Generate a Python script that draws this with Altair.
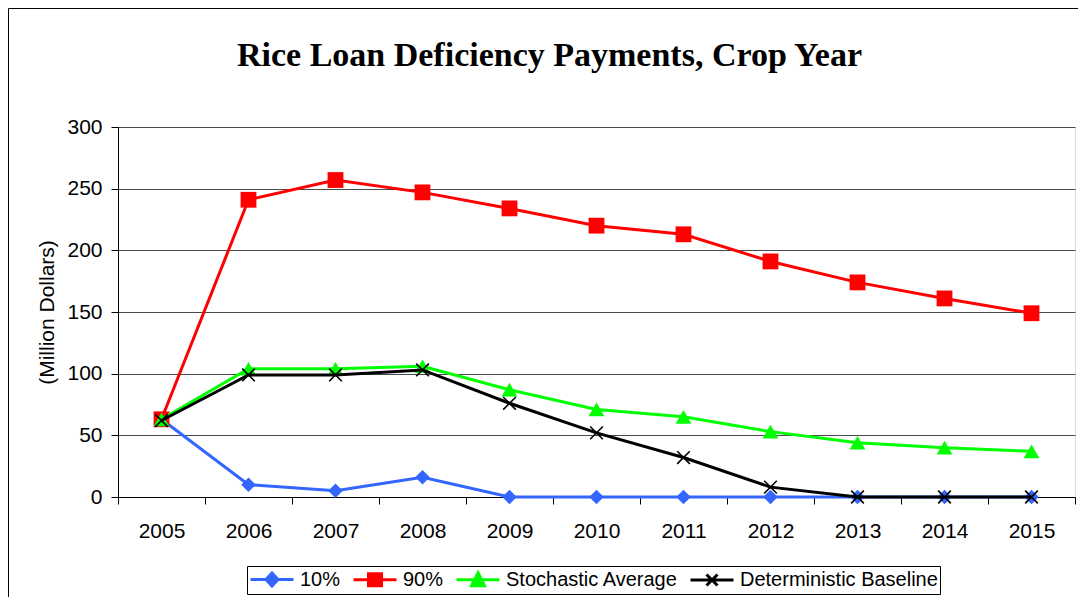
import altair as alt
import pandas as pd

years = ["2005", "2006", "2007", "2008", "2009", "2010", "2011", "2012", "2013", "2014", "2015"]
series = ["10%", "90%", "Stochastic Average", "Deterministic Baseline"]
v10 = [63, 10, 5, 16, 0, 0, 0, 0, 0, 0, 0]
v90 = [63, 241, 257, 247, 234, 220, 213, 191, 174, 161, 149]
vsto = [63, 104, 104, 106, 87, 71, 65, 53, 44, 40, 37]
vdet = [62, 99, 99, 103, 76, 52, 32, 8, 0, 0, 0]
colors = ["#3366ff", "#ff0000", "#00ff00", "#000000"]

values = [v10, v90, vsto, vdet]
rows = []
for s, vals in zip(series, values):
    for y, v in zip(years, vals):
        rows.append({"year": y, "value": v, "series": s})
df = pd.DataFrame(rows)

W, H = 957, 370
PL, PT, PR, PB = 110, 119, 3, 100

xenc = alt.X(
    "year:O",
    scale=alt.Scale(type="band", paddingInner=0, paddingOuter=0, domain=years),
    bandPosition=0.5,
    axis=alt.Axis(
        title=None, tickBand="extent", labelAngle=0, grid=False,
        labelFont="Liberation Sans", labelFontSize=21, labelColor="black",
        tickColor="black", tickSize=7, domainColor="black", labelPadding=16,
    ),
)
yenc = alt.Y(
    "value:Q",
    scale=alt.Scale(domain=[0, 300], nice=False),
    axis=alt.Axis(
        title="(Million Dollars)", values=[0, 50, 100, 150, 200, 250, 300],
        titleFont="Liberation Sans", titleFontSize=21, titleFontWeight="normal",
        titleColor="black", titlePadding=9,
        labelFont="Liberation Sans", labelFontSize=21, labelColor="black",
        labelPadding=9, tickColor="black", tickSize=7, domainColor="black",
        grid=True, gridColor="#4a4a4a", gridWidth=1,
    ),
)

point_shapes = ["diamond", "square", "triangle-up", "M-1,-1L1,1M-1,1L1,-1"]
point_sizes = [210, 250, 250, 160]

base = alt.Chart(df)
layers = []
for i, s in enumerate(series):
    sub = base.transform_filter(alt.datum.series == s)
    layers.append(
        sub.mark_line(strokeWidth=3, color=colors[i]).encode(x=xenc, y=yenc)
    )
    if i == 3:
        pm = sub.mark_point(shape=point_shapes[i], size=point_sizes[i], filled=False,
                            stroke=colors[i], strokeWidth=1.6, opacity=1)
    else:
        pm = sub.mark_point(shape=point_shapes[i], size=point_sizes[i], filled=True,
                            color=colors[i], opacity=1)
    layers.append(pm.encode(x=xenc, y=yenc))

# legend symbols: a line with the marker, drawn in a 20px symbol box
legend_paths = [
    "M-1,0H3.3M1.15,-0.65L1.75,0L1.15,0.65L0.55,0Z",
    "M-1,0H3.3M0.5,-0.6H1.8V0.6H0.5Z",
    "M-1,0H3.3M1.15,-0.7L1.8,0.6H0.5Z",
    "M-1,0H3.3M0.6,-0.55L1.7,0.55M0.6,0.55L1.7,-0.55",
]
leg = alt.Legend(
    title=None, orient="none", direction="horizontal", legendX=129, legendY=439,
    labelFont="Liberation Sans", labelFontSize=20, labelColor="black", labelLimit=500,
    symbolSize=400, symbolStrokeWidth=3, symbolOpacity=1, labelOffset=28,
    columnPadding=6, padding=2, strokeColor="black", fillColor="white",
)
legend_layer = base.transform_filter("false").mark_point(filled=False, opacity=1).encode(
    shape=alt.Shape("series:N", scale=alt.Scale(domain=series, range=legend_paths), legend=leg),
    fill=alt.Fill("series:N", scale=alt.Scale(domain=series, range=colors), legend=leg),
    stroke=alt.Stroke("series:N", scale=alt.Scale(domain=series, range=colors), legend=leg),
)

border = alt.Chart(alt.Data(values=[{}])).mark_rect(
    fill=None, stroke="black", strokeWidth=1
).encode(
    x=alt.value(-PL + 0.5), y=alt.value(-PT + 0.5),
    x2=alt.value(W + PR + 20), y2=alt.value(H + PB + 20),
)

chart = alt.layer(border, *layers, legend_layer).properties(
    width=W, height=H,
    title=alt.TitleParams(
        "Rice Loan Deficiency Payments, Crop Year",
        font="Liberation Serif", fontSize=34, fontWeight="bold", color="black",
        anchor="middle", frame="group", dx=-47, offset=-65,
    ),
    autosize=alt.AutoSizeParams(type="none"),
    padding={"left": PL, "top": PT, "right": PR, "bottom": PB},
).configure_view(stroke="#888888", strokeWidth=1).configure(background="white")

chart.save("out.html", embed_options={"renderer": "svg", "actions": False})
